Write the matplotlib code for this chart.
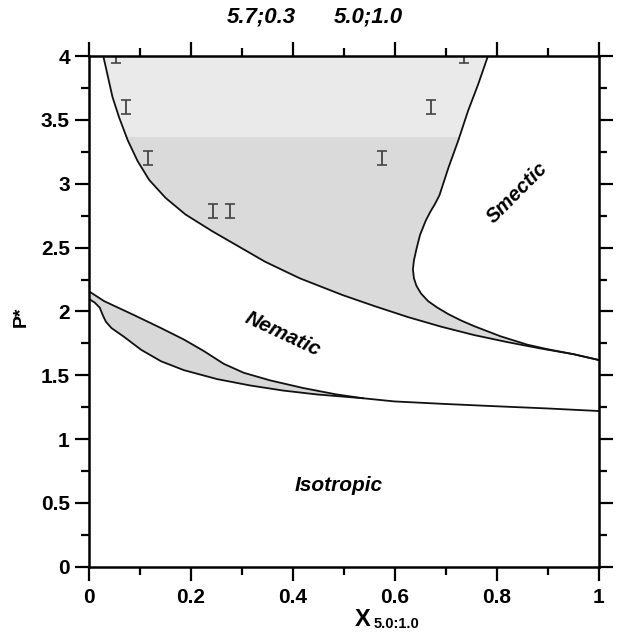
import numpy as np
import matplotlib.pyplot as plt
from matplotlib.patches import Rectangle

plt.rcParams['font.family'] = ['Liberation Sans', 'DejaVu Sans']
plt.rcParams['font.weight'] = 'bold'

# nematic-smectic coexistence region: left/lower boundary (top -> right end)
ns_left_x = [0.029, 0.038, 0.047, 0.060, 0.077, 0.096, 0.119, 0.151, 0.190, 0.242,
             0.294, 0.346, 0.414, 0.497, 0.562, 0.627, 0.692, 0.756, 0.821, 0.886,
             0.951, 1.0]
ns_left_y = [4.0, 3.84, 3.68, 3.52, 3.34, 3.18, 3.03, 2.89, 2.76, 2.63,
             2.51, 2.39, 2.26, 2.13, 2.04, 1.955, 1.88, 1.815, 1.76, 1.71,
             1.665, 1.62]

# right boundary (top -> right end)
ns_right_x = [0.783, 0.764, 0.744, 0.725, 0.706, 0.688, 0.679, 0.670, 0.661, 0.650,
              0.643, 0.638, 0.636, 0.638, 0.643, 0.652, 0.666, 0.684, 0.705, 0.730,
              0.756, 0.808, 0.860, 0.899, 0.951, 1.0]
ns_right_y = [4.0, 3.78, 3.57, 3.34, 3.13, 2.91, 2.84, 2.78, 2.71, 2.60,
              2.49, 2.40, 2.33, 2.26, 2.20, 2.14, 2.08, 2.03, 1.98, 1.93,
              1.885, 1.805, 1.74, 1.705, 1.665, 1.62]

# isotropic-nematic coexistence region (upper curve continues after the two merge)
in_upper_x = [0.0, 0.031, 0.090, 0.142, 0.187, 0.226, 0.265, 0.304, 0.356, 0.421,
              0.486, 0.538, 0.6, 0.7, 0.8, 0.9, 1.0]
in_upper_y = [2.16, 2.08, 1.97, 1.87, 1.78, 1.69, 1.59, 1.52, 1.46, 1.40,
              1.35, 1.32, 1.295, 1.275, 1.257, 1.24, 1.22]
in_lower_x = [0.0, 0.012, 0.022, 0.028, 0.034, 0.045, 0.070, 0.103, 0.142, 0.187,
              0.252, 0.317, 0.382, 0.447, 0.538]
in_lower_y = [2.10, 2.07, 2.03, 1.97, 1.92, 1.87, 1.80, 1.70, 1.61, 1.54,
              1.47, 1.42, 1.38, 1.35, 1.32]
merge_idx = 12  # number of upper points up to the merge at x=0.538

# simulation points (error bars)
sim_x = [0.054, 0.073, 0.116, 0.245, 0.278, 0.737, 0.671, 0.575]
sim_y = [4.0, 3.6, 3.2, 2.79, 2.79, 4.0, 3.6, 3.2]
sim_err = 0.055

fig = plt.figure(figsize=(6.19, 6.39), dpi=100)
ax = fig.add_axes([0.143, 0.1131, 0.824, 0.799])

# upper shaded region (two tones, lighter above ~3.37)
poly_x = ns_left_x + ns_right_x[::-1]
poly_y = ns_left_y + ns_right_y[::-1]
patch = ax.fill(poly_x, poly_y, color='#dadada', lw=0, zorder=1)[0]
band = Rectangle((0, 3.37), 1, 0.7, color='#eaeaea', lw=0, zorder=1.5)
ax.add_patch(band)
band.set_clip_path(patch)

# lower shaded band
ax.fill(in_upper_x[:merge_idx] + in_lower_x[::-1],
        in_upper_y[:merge_idx] + in_lower_y[::-1],
        color='#d8d8d8', lw=0, zorder=1)

for xs, ys in [(ns_left_x, ns_left_y), (ns_right_x, ns_right_y),
               (in_upper_x, in_upper_y), (in_lower_x, in_lower_y)]:
    ax.plot(xs, ys, color='#111111', lw=1.3, zorder=3)

ax.errorbar(sim_x, sim_y, yerr=sim_err, fmt='none', ecolor='#444444',
            elinewidth=1.3, capsize=3.5, capthick=1.2, zorder=2)

ax.set_xlim(0, 1)
ax.set_ylim(0, 4)
ax.set_xticks(np.arange(0, 1.01, 0.2))
ax.set_xticks(np.arange(0.1, 1.0, 0.2), minor=True)
ax.set_yticks(np.arange(0, 4.01, 0.5))
ax.set_yticks(np.arange(0.25, 4.0, 0.5), minor=True)
ax.set_xticklabels(['0', '0.2', '0.4', '0.6', '0.8', '1'])
ax.set_yticklabels(['0', '0.5', '1', '1.5', '2', '2.5', '3', '3.5', '4'])
ax.tick_params(which='both', direction='out', top=True, right=True,
               labeltop=False, labelright=False, width=1.6, labelsize=15)
ax.tick_params(which='major', length=10)
ax.tick_params(which='minor', length=6)
ax.tick_params(axis='x', pad=5)
for s in ax.spines.values():
    s.set_linewidth(1.8)
    s.set_zorder(5)

# region labels
ax.text(0.841, 2.93, 'Smectic', rotation=45, style='italic', fontsize=14.5,
        ha='center', va='center')
ax.text(0.38, 1.82, 'Nematic', rotation=-25, style='italic', fontsize=15,
        ha='center', va='center')
ax.text(0.49, 0.64, 'Isotropic', style='italic', fontsize=15,
        ha='center', va='center')

# top labels
ax.text(0.338, 4.31, '5.7;0.3', style='italic', fontsize=16, ha='center', va='center')
ax.text(0.549, 4.31, '5.0;1.0', style='italic', fontsize=16, ha='center', va='center')

# axis labels
ax.text(0.537, -0.41, 'X', fontsize=17, ha='center', va='center', clip_on=False)
ax.text(0.604, -0.45, '5.0:1.0', fontsize=10.5, ha='center', va='center', clip_on=False)
ax.text(-0.131, 1.96, 'P*', rotation=90, fontsize=14, ha='center', va='center')

fig.savefig('out.png', dpi=100)
